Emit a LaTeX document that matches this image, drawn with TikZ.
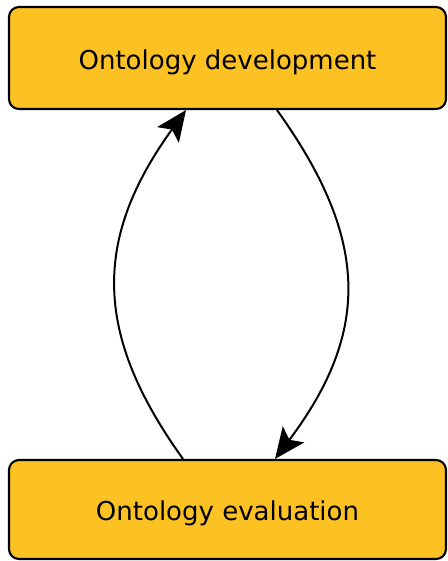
\documentclass[tikz,border=0pt]{standalone}
\usepackage{fontspec}
\setmainfont{DejaVu Sans}
\usetikzlibrary{arrows.meta}
\definecolor{boxfill}{RGB}{252,194,36}
\tikzset{
  stagebox/.style={draw=black, line width=1.6pt, fill=boxfill, rounded corners=7.5pt,
    minimum width=327.75pt, inner sep=0pt, text height=17pt, text depth=0pt,
    font=\fontsize{19.5}{23}\selectfont},
  cyclearrow/.style={line width=1.5pt, -{Stealth[length=23pt,width=20pt,inset=5pt]}}
}
\begin{document}
\begin{tikzpicture}[x=0.75pt,y=-0.75pt]
\useasboundingbox (0,0) rectangle (448,561);
\node[stagebox, minimum height=76.5pt] (dev) at (227.5,58) {Ontology development};
\node[stagebox, minimum height=74.25pt] (eval) at (227.5,509.5) {Ontology evaluation};
\draw[cyclearrow] (eval.north -| 183,0) .. controls (94,335) and (92,240) .. (dev.south -| 186,0);
\draw[cyclearrow] (dev.south -| 277,0) .. controls (368,237) and (372,330) .. (eval.north -| 275,0);
\end{tikzpicture}
\end{document}
